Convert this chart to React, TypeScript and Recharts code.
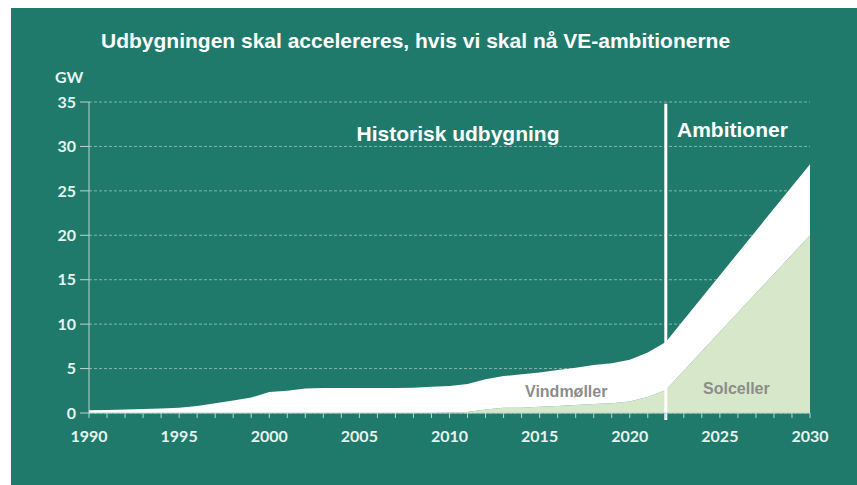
import { AreaChart, Area, XAxis, YAxis, CartesianGrid, ReferenceLine } from "recharts";

// years with capacity readings (GW); 2030 is the ambition end point
const years = [
  1990, 1991, 1992, 1993, 1994, 1995, 1996, 1997, 1998, 1999,
  2000, 2001, 2002, 2003, 2004, 2005, 2006, 2007, 2008, 2009,
  2010, 2011, 2012, 2013, 2014, 2015, 2016, 2017, 2018, 2019,
  2020, 2021, 2022, 2030,
];
const solarGW = [
  0, 0, 0, 0, 0, 0, 0, 0, 0, 0,
  0, 0, 0, 0, 0, 0, 0, 0, 0, 0,
  0.05, 0.1, 0.4, 0.6, 0.6, 0.7, 0.8, 0.9, 1.0, 1.1,
  1.3, 1.8, 2.6, 20,
];
const windGW = [
  0.3, 0.35, 0.4, 0.45, 0.5, 0.6, 0.8, 1.1, 1.4, 1.75,
  2.35, 2.5, 2.75, 2.8, 2.8, 2.8, 2.8, 2.8, 2.85, 2.95,
  3.0, 3.15, 3.4, 3.55, 3.75, 3.85, 4.05, 4.2, 4.4, 4.5,
  4.7, 5.0, 5.4, 8.0,
];
const xTicks = Array.from({ length: 41 }, (_, i) => 1990 + i);
const yTicks = [0, 5, 10, 15, 20, 25, 30, 35];
const splitYear = 2022;

const data = years.map((year, i) => ({ year, sol: solarGW[i], vind: windGW[i] }));

const BG = "#1f7a6b";
const AXIS = "#b9d7cd";
const TICK = "#e6f4ef";
const SANS = "'Liberation Sans', Arial, sans-serif";

export default function App() {
  return (
    <div style={{ position: "absolute", left: 11, top: 8, width: 846, height: 477, background: BG }}>
      <AreaChart width={846} height={477} data={data} margin={{ top: 94, right: 47, bottom: 42, left: 28 }}>
        <CartesianGrid vertical={false} stroke="rgba(255,255,255,0.45)" strokeDasharray="3 2" />
        <XAxis
          dataKey="year"
          type="number"
          domain={[1990, 2030]}
          ticks={xTicks}
          interval={0}
          tickFormatter={(y: number) => (y % 5 === 0 ? String(y) : "")}
          tickSize={5}
          tickMargin={13}
          height={30}
          stroke={AXIS}
          tick={{ fill: TICK, fontSize: 16, fontWeight: 700, fontFamily: "Lato" }}
        />
        <YAxis
          domain={[0, 35]}
          ticks={yTicks}
          interval={0}
          width={50}
          tickSize={9}
          tickMargin={4}
          stroke={AXIS}
          tick={{ fill: TICK, fontSize: 16, fontWeight: 700, fontFamily: "Lato" }}
        />
        <Area type="linear" dataKey="sol" stackId="a" stroke="none" fill="#d7e7c9" fillOpacity={1} isAnimationActive={false} />
        <Area type="linear" dataKey="vind" stackId="a" stroke="none" fill="#ffffff" fillOpacity={1} isAnimationActive={false} />
        <ReferenceLine
          segment={[{ x: splitYear, y: -0.8 }, { x: splitYear, y: 34.8 }]}
          ifOverflow="visible"
          stroke="#ffffff"
          strokeWidth={3}
        />
      </AreaChart>
      <svg width={846} height={477} style={{ position: "absolute", left: 0, top: 0, pointerEvents: "none" }}>
        <text x={90} y={40} fill="#ffffff" fontSize={21} fontWeight={700} fontFamily={SANS}>
          Udbygningen skal accelereres, hvis vi skal nå VE-ambitionerne
        </text>
        <text x={44} y={75} fill={TICK} fontSize={16} fontWeight={700} fontFamily="Lato">GW</text>
        <text x={447} y={133} textAnchor="middle" fill="#ffffff" fontSize={21} fontWeight={700} fontFamily={SANS}>
          Historisk udbygning
        </text>
        <text x={666} y={129} fill="#ffffff" fontSize={21} fontWeight={700} fontFamily={SANS}>Ambitioner</text>
        <text x={514} y={389} fill="#8c8c8c" fontSize={16} fontWeight={700} fontFamily={SANS}>Vindmøller</text>
        <text x={692} y={386} fill="#8c8c8c" fontSize={16} fontWeight={700} fontFamily={SANS}>Solceller</text>
      </svg>
    </div>
  );
}
